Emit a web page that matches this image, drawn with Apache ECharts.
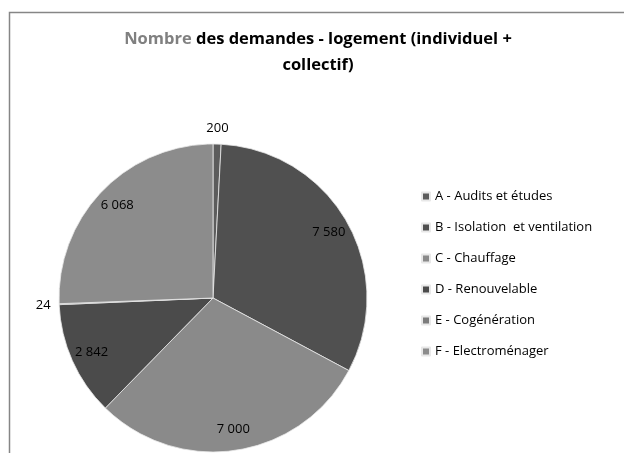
<!DOCTYPE html>
<html>
<head>
<meta charset="utf-8">
<script src="https://cdn.jsdelivr.net/npm/echarts@6/dist/echarts.min.js"></script>
<style>
  html, body { margin: 0; padding: 0; background: #fff; }
  #chart { width: 624px; height: 453px; }
</style>
</head>
<body>
<div id="chart"></div>
<script>
const categories = [
  'A - Audits et études',
  'B - Isolation  et ventilation',
  'C - Chauffage',
  'D - Renouvelable',
  'E - Cogénération',
  'F - Electroménager'
]
const values = [200, 7580, 7000, 2842, 24, 6068]
const colors = ['#5c5c5c', '#505050', '#8a8a8a', '#4b4b4b', '#7c7c7c', '#8c8c8c']
// small slices get their label outside the pie
const outsideLabel = [true, false, false, false, true, false]

const FONT = '"Open Sans", Lato, sans-serif'
const CENTER = [213, 298]

const fmt = (v) => String(v).replace(/\B(?=(\d{3})+(?!\d))/g, ' ')

const pieData = categories.map((name, i) => ({ name: name, value: values[i] }))

const labelData = (outside) => categories.map((name, i) => ({
  name: name,
  value: values[i],
  label: { show: outsideLabel[i] === outside }
}))

// transparent copy of the pie, only used to place the value labels
const labelSeries = (radius, outside) => ({
  type: 'pie',
  silent: true,
  center: CENTER,
  radius: radius,
  startAngle: 90,
  clockwise: true,
  avoidLabelOverlap: false,
  itemStyle: { color: 'rgba(0,0,0,0)', borderWidth: 0 },
  label: {
    position: 'inside',
    color: '#000',
    fontSize: 13,
    fontFamily: FONT,
    formatter: (p) => fmt(p.value)
  },
  labelLine: { show: false },
  emphasis: { disabled: true },
  data: labelData(outside)
})

const option = {
  animation: false,
  color: colors,
  graphic: [
    {
      type: 'polyline',
      shape: { points: [[9.5, 460], [9.5, 12.5], [630, 12.5]] },
      style: { stroke: '#868686', lineWidth: 1.5, fill: null }
    }
  ],
  title: {
    text: '{g|Nombre} des demandes - logement (individuel +\ncollectif)',
    left: 318,
    top: 26,
    padding: 0,
    textAlign: 'center',
    textStyle: {
      fontFamily: FONT,
      fontSize: 16.5,
      fontWeight: 'bold',
      color: '#000',
      lineHeight: 26,
      rich: {
        g: { color: '#808080', fontFamily: FONT, fontSize: 16.5, fontWeight: 'bold', lineHeight: 26 }
      }
    }
  },
  legend: {
    orient: 'vertical',
    left: 416,
    top: 185,
    data: categories,
    icon: 'rect',
    itemWidth: 8,
    itemHeight: 8,
    itemGap: 18,
    selectedMode: false,
    textStyle: { fontFamily: FONT, fontSize: 13, color: '#000' }
  },
  series: [
    {
      type: 'pie',
      center: CENTER,
      radius: 154,
      startAngle: 90,
      clockwise: true,
      avoidLabelOverlap: false,
      itemStyle: { borderColor: '#e8e8e8', borderWidth: 0.8 },
      label: { show: false },
      labelLine: { show: false },
      emphasis: { disabled: true },
      data: pieData
    },
    labelSeries([102, 158], false),
    labelSeries([159, 175], true)
  ]
}

const myChart = echarts.init(document.getElementById('chart'))
myChart.setOption(option)
</script>
</body>
</html>
